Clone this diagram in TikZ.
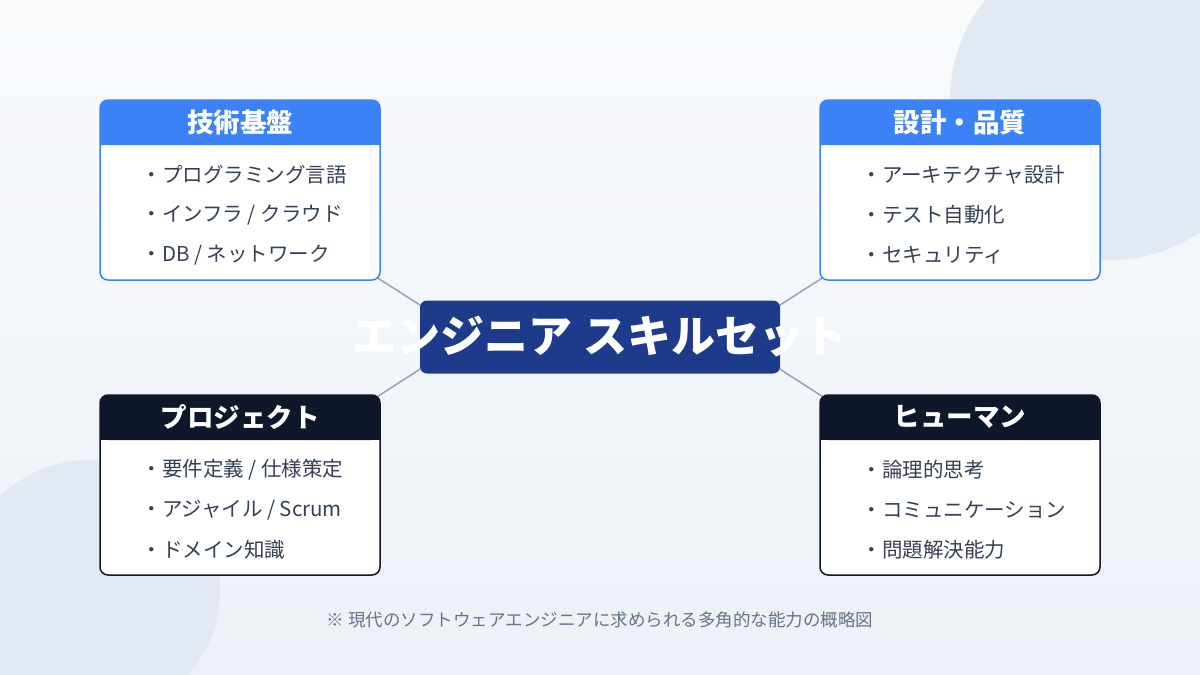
\documentclass[tikz,border=0pt]{standalone}
\usepackage{fontspec}
\setmainfont{Noto Sans CJK JP}
\usetikzlibrary{positioning,backgrounds}
\definecolor{bgtop}{HTML}{F8FAFC}
\definecolor{bgbot}{HTML}{EDF1F7}
\definecolor{blob}{HTML}{E3E9F3}
\definecolor{skyblue}{HTML}{3B82F6}
\definecolor{navy}{HTML}{0F172A}
\definecolor{coreblue}{HTML}{1E3A8A}
\definecolor{linkgray}{HTML}{94A3B8}
\definecolor{itemtext}{HTML}{334155}
\definecolor{notetext}{HTML}{64748B}

\begin{document}
\begin{tikzpicture}[
        x=1pt, y=-1pt,
        panel/.style={rectangle, draw=#1, line width=1.5pt, rounded corners=8pt, fill=white, minimum width=280pt, minimum height=180pt},
        item/.style={anchor=west, text=itemtext, font=\fontsize{20.5}{24}\selectfont},
        core/.style={rectangle, fill=coreblue, rounded corners=7pt, minimum width=360pt, minimum height=73pt},
        link/.style={draw=linkgray, line width=1.5pt}
    ]

    % Background
    \shade[top color=bgtop, bottom color=bgbot] (0,0) rectangle (1200,675);
    \useasboundingbox (0,0) rectangle (1200,675);
    \fill[blob] (1110,100) circle (160);
    \fill[blob] (90,590) circle (130);

    % Links
    \coordinate (techc) at (240,190);
    \coordinate (designc) at (960,190);
    \coordinate (projc) at (240,485);
    \coordinate (humanc) at (960,485);
    \coordinate (skillc) at (600,337);
    \coordinate (skillw) at (470,337);
    \coordinate (skille) at (730,337);
    \draw[link] (skillw) -- (techc);
    \draw[link] (skille) -- (designc);
    \draw[link] (skillw) -- (projc);
    \draw[link] (skille) -- (humanc);

    % Centre
    \node[core] (skill) at (skillc) {};
    \node[text=white, font=\fontsize{44}{50}\selectfont\bfseries] (skilltext) at (skillc) {エンジニア スキルセット};

    % Panels
    \node[panel=skyblue] (tech) at (techc) {};
    \node[panel=skyblue] (design) at (designc) {};
    \node[panel=navy] (proj) at (projc) {};
    \node[panel=navy] (human) at (humanc) {};

    % Headers
    \foreach \nm/\cx/\cy/\col/\txt in {techhead/240/122/skyblue/技術基盤, designhead/960/122/skyblue/設計・品質, projhead/240/417/navy/プロジェクト, humanhead/960/417/navy/ヒューマン} {
        \fill[\col, rounded corners=8pt] (\cx-140,\cy-22) rectangle (\cx+140,\cy+23);
        \fill[\col] (\cx-140,\cy) rectangle (\cx+140,\cy+23);
        \node[text=white, font=\fontsize{26.5}{30}\selectfont\bfseries] (\nm) at (\cx,\cy) {\txt};
    }

    % Items
    \node[item] (t1) at (138,175) {・プログラミング言語};
    \node[item] (t2) at (138,215) {・インフラ / クラウド};
    \node[item] (t3) at (138,255) {・DB / ネットワーク};
    \node[item] (d1) at (858,175) {・アーキテクチャ設計};
    \node[item] (d2) at (858,215) {・テスト自動化};
    \node[item] (d3) at (858,255) {・セキュリティ};
    \node[item] (p1) at (138,470) {・要件定義 / 仕様策定};
    \node[item] (p2) at (138,510) {・アジャイル / Scrum};
    \node[item] (p3) at (138,550) {・ドメイン知識};
    \node[item] (h1) at (858,470) {・論理的思考};
    \node[item] (h2) at (858,510) {・コミュニケーション};
    \node[item] (h3) at (858,550) {・問題解決能力};

    % Note
    \node[text=notetext, font=\fontsize{17.5}{21}\selectfont] (note) at (600,620) {※ 現代のソフトウェアエンジニアに求められる多角的な能力の概略図};

\end{tikzpicture}
\end{document}
